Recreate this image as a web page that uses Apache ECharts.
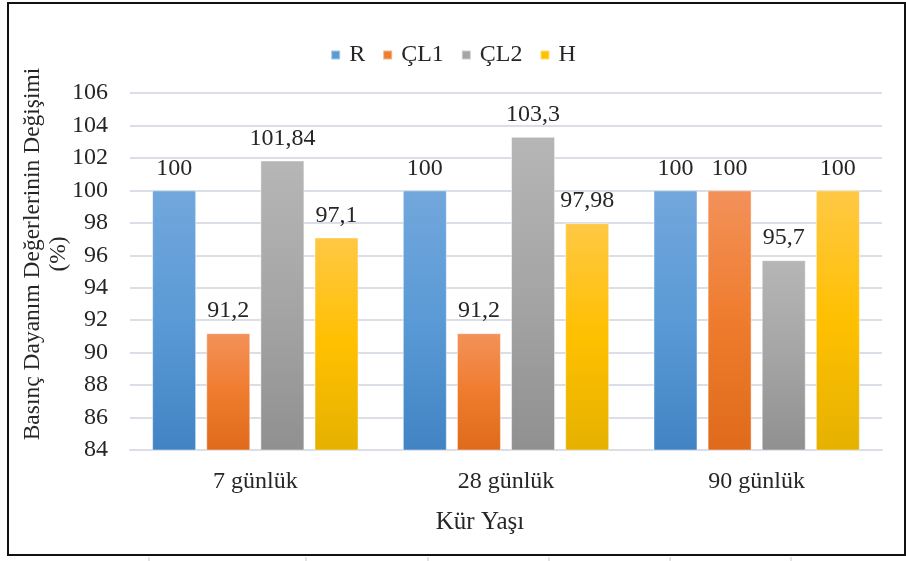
<!DOCTYPE html>
<html>
<head>
<meta charset="utf-8">
<script src="https://cdn.jsdelivr.net/npm/echarts@6/dist/echarts.min.js"></script>
<style>
  html, body { margin: 0; padding: 0; background: #fff; }
  #chart { width: 906px; height: 561px; }
</style>
</head>
<body>
<div id="chart"></div>
<script>
// Cure ages on the category axis
const categories = ['7 günlük', '28 günlük', '90 günlük'];
// Compressive strength change (%) for each mix
const seriesNames = ['R', 'ÇL1', 'ÇL2', 'H'];
const valuesR   = [100, 100, 100];
const valuesCL1 = [91.2, 91.2, 100];
const valuesCL2 = [101.84, 103.3, 95.7];
const valuesH   = [97.1, 97.98, 100];
// Printed labels (decimal comma)
const labelsR   = ['100', '100', '100'];
const labelsCL1 = ['91,2', '91,2', '100'];
const labelsCL2 = ['101,84', '103,3', '95,7'];
const labelsH   = ['97,1', '97,98', '100'];
const yTicks = { min: 84, max: 106, step: 2 };

const FONT = '"Liberation Serif", "Times New Roman", serif';
const TXT = '#262626';

function grad(top, mid, bottom) {
  return new echarts.graphic.LinearGradient(0, 0, 0, 1, [
    { offset: 0, color: top },
    { offset: 0.5, color: mid },
    { offset: 1, color: bottom }
  ]);
}

const fills = [
  grad('#72a7dc', '#5a9ad6', '#4283c4'),
  grad('#f3915a', '#ef7c2e', '#df6a1c'),
  grad('#b6b6b6', '#a5a5a5', '#909090'),
  grad('#ffc845', '#ffc000', '#e5b100')
];
const legendColors = ['#5b9bd5', '#ed7d31', '#a5a5a5', '#ffc000'];

const valueSets = [valuesR, valuesCL1, valuesCL2, valuesH];
const labelSets = [labelsR, labelsCL1, labelsCL2, labelsH];

// small sheet-column marks under the frame
const sheetMarks = [149, 306, 428, 549, 670, 791];

const chart = echarts.init(document.getElementById('chart'), null, { renderer: 'canvas' });

chart.setOption({
  backgroundColor: '#ffffff',
  animation: false,
  color: legendColors,
  legend: {
    data: seriesNames.map((n, i) => ({ name: n, itemStyle: { color: legendColors[i] } })),
    top: 38,
    left: 'center',
    itemWidth: 9,
    itemHeight: 9,
    itemGap: 17,
    icon: 'rect',
    textStyle: { fontFamily: FONT, fontSize: 24, color: TXT, padding: [0, 0, 0, 4] }
  },
  grid: { left: 130, right: 24, top: 93, bottom: 111 },
  xAxis: {
    type: 'category',
    data: categories,
    axisLine: { show: true, lineStyle: { color: '#dadfe7', width: 2 } },
    axisTick: { show: false },
    axisLabel: { fontFamily: FONT, fontSize: 24, color: TXT, margin: 20 }
  },
  yAxis: {
    type: 'value',
    min: yTicks.min,
    max: yTicks.max,
    interval: yTicks.step,
    axisLine: { show: false },
    axisTick: { show: false },
    axisLabel: { fontFamily: FONT, fontSize: 24, color: TXT, margin: 22 },
    splitLine: { lineStyle: { color: '#dadfe7', width: 2 } }
  },
  series: seriesNames.map((name, i) => ({
    name: name,
    type: 'bar',
    barWidth: 44,
    barGap: '23%',
    data: valueSets[i],
    itemStyle: { color: fills[i], borderColor: 'rgba(255,255,255,0.45)', borderWidth: 1 },
    label: {
      show: true,
      position: 'top',
      distance: 10,
      fontFamily: FONT,
      fontSize: 24,
      color: TXT,
      formatter: p => labelSets[i][p.dataIndex]
    }
  })),
  graphic: [
    {
      type: 'rect',
      shape: { x: 8, y: 3, width: 897, height: 552 },
      style: { fill: 'none', stroke: '#111', lineWidth: 2 },
      silent: true
    },
    ...sheetMarks.map(x => ({
      type: 'line',
      shape: { x1: x, y1: 557, x2: x, y2: 561 },
      style: { stroke: '#c8c8c8', lineWidth: 1 },
      silent: true
    })),
    {
      type: 'text',
      x: 46,
      y: 254,
      rotation: Math.PI / 2,
      style: {
        text: 'Basınç Dayanım Değerlerinin Değişimi\n(%)',
        fontFamily: FONT,
        fontSize: 23.5,
        fill: TXT,
        align: 'center',
        verticalAlign: 'middle',
        lineHeight: 26
      },
      silent: true
    },
    {
      type: 'text',
      x: 480,
      y: 522,
      style: {
        text: 'Kür Yaşı',
        fontFamily: FONT,
        fontSize: 25,
        fill: TXT,
        align: 'center',
        verticalAlign: 'middle'
      },
      silent: true
    }
  ]
});
</script>
</body>
</html>
